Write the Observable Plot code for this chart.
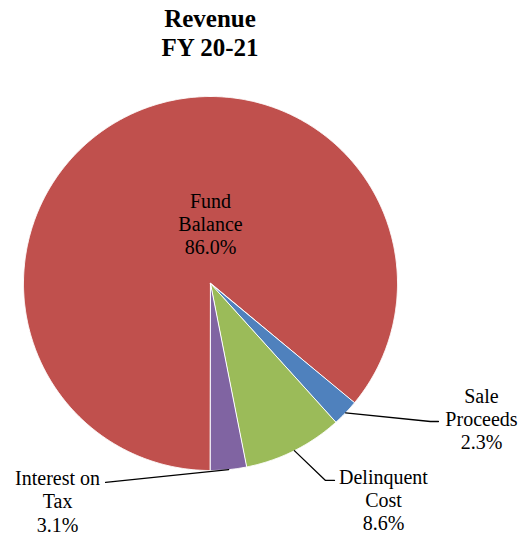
<!DOCTYPE html>
<html>
<head>
<meta charset="utf-8">
<script src="https://cdn.jsdelivr.net/npm/d3@7"></script>
<script src="https://cdn.jsdelivr.net/npm/@observablehq/plot@0.6"></script>
<style>
  html, body { margin: 0; padding: 0; background: #fff; }
  #title { width: 420px; text-align: center; font: bold 25px "Liberation Serif", "Times New Roman", serif; line-height: 29px; padding-top: 4px; color: #000; }
  svg { display: block; }
  #chart svg text, #chart svg tspan { font-family: "Liberation Serif", "Times New Roman", serif !important; }
</style>
</head>
<body>
<div id="title">Revenue<br>FY 20-21</div>
<div id="chart"></div>
<script>
// ---- data ----
const categories = ["Fund Balance", "Sale Proceeds", "Delinquent Cost", "Interest on Tax"];
const labelText = ["Fund\nBalance", "Sale\nProceeds", "Delinquent\nCost", "Interest on\nTax"];
const values = [86.0, 2.3, 8.6, 3.1];
const colors = ["#C0504D", "#4F81BD", "#9BBB59", "#8064A2"];

// ---- layout (label anchors & leader elbows, in pie-radius units) ----
const labelPos = [[0, 0.321], [1.449, -0.722], [0.925, -1.155], [-0.818, -1.163]];
const leaderElbow = [null, [1.176, -0.738], [0.615, -1.053], null];
const leaderEnd = [null, [1.219, -0.738], [0.663, -1.053], [-0.561, -1.064]];

const arcs = d3.pie().sort(null).startAngle(Math.PI).endAngle(3 * Math.PI)(values);

// slice polygons
const slicePts = [];
arcs.forEach((a, i) => {
  const name = categories[i];
  slicePts.push({name, x: 0, y: 0});
  const n = Math.max(2, Math.ceil((a.endAngle - a.startAngle) / 0.005));
  for (let k = 0; k <= n; k++) {
    const t = a.startAngle + (a.endAngle - a.startAngle) * k / n;
    slicePts.push({name, x: Math.sin(t), y: Math.cos(t)});
  }
});

// leader lines
const leaderPts = [];
arcs.forEach((a, i) => {
  if (!leaderEnd[i]) return;
  const m = (a.startAngle + a.endAngle) / 2;
  leaderPts.push({name: categories[i], x: Math.sin(m), y: Math.cos(m)});
  if (leaderElbow[i]) leaderPts.push({name: categories[i], x: leaderElbow[i][0], y: leaderElbow[i][1]});
  leaderPts.push({name: categories[i], x: leaderEnd[i][0], y: leaderEnd[i][1]});
});

const labels = categories.map((c, i) => ({
  name: c,
  text: labelText[i] + "\n" + values[i].toFixed(1) + "%",
  x: labelPos[i][0],
  y: labelPos[i][1]
}));

const cx = 210, cy = 221, R = 187;
const serif = "Liberation Serif";
const chart = Plot.plot({
  width: 519,
  height: 473,
  margin: 0,
  x: {domain: [-1, 1], range: [cx - R, cx + R], axis: null},
  y: {domain: [-1, 1], range: [cy + R, cy - R], axis: null},
  color: {domain: categories, range: colors},
  style: {fontFamily: serif, background: "#fff"},
  marks: [
    Plot.line(slicePts, {x: "x", y: "y", z: "name", fill: "name", stroke: "white", strokeWidth: 1, curve: "linear-closed", strokeLinejoin: "round"}),
    Plot.line(leaderPts, {x: "x", y: "y", z: "name", stroke: "black", strokeWidth: 1.3}),
    Plot.text(labels, {x: "x", y: "y", text: "text", fontSize: 20, fontFamily: serif, lineHeight: 1.17, textAnchor: "middle", lineAnchor: "middle", fill: "black"})
  ]
});
document.getElementById("chart").appendChild(chart);
</script>
</body>
</html>
